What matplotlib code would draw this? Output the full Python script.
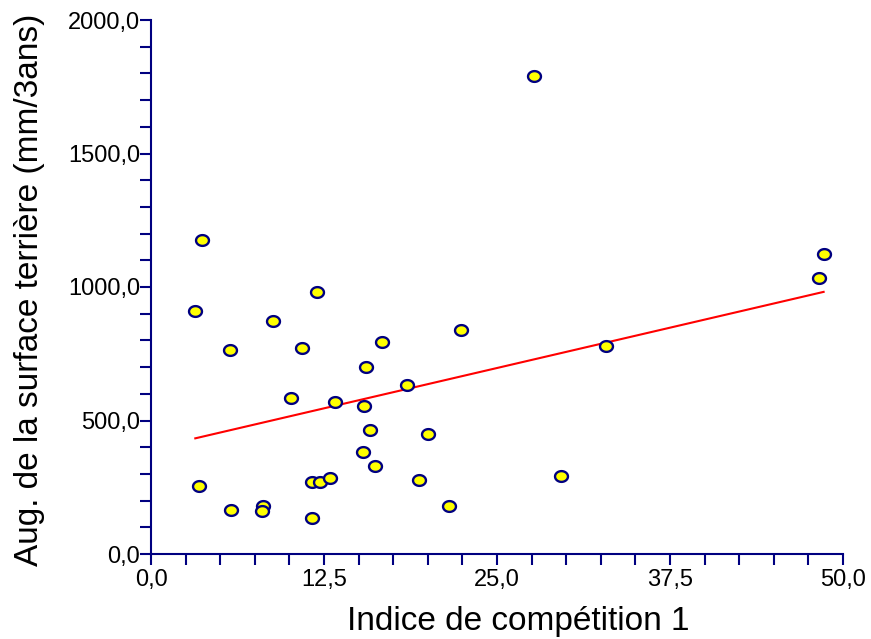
import numpy as np
import matplotlib
matplotlib.use("Agg")
import matplotlib.pyplot as plt
from matplotlib.path import Path
from matplotlib.ticker import FuncFormatter, MultipleLocator

# Data
indice = [3.2, 3.7, 3.5, 5.7, 5.8, 8.8, 8.1, 8.0, 10.1, 10.9, 12.0, 11.6, 12.2,
          11.6, 12.9, 13.3, 15.5, 15.4, 15.8, 15.3, 16.2, 16.7, 18.5, 20.0,
          19.4, 21.5, 22.4, 27.7, 29.6, 32.9, 48.3, 48.6]
augmentation = [910, 1176, 255, 764, 165, 873, 180, 161, 584, 772, 981, 270, 270,
                135, 285, 569, 700, 554, 464, 382, 330, 794, 633, 449,
                277, 180, 839, 1790, 292, 779, 1034, 1124]

x_label = "Indice de compétition 1"
y_label = "Aug. de la surface terrière (mm/3ans)"

plt.rcParams['font.family'] = ['Liberation Sans', 'DejaVu Sans']

navy = '#000080'
fig = plt.figure(figsize=(8.71, 6.39), dpi=100)
ax = fig.add_axes([151/871, 1-554/639, (843-151)/871, (554-20)/639])

x = np.array(indice, dtype=float)
y = np.array(augmentation, dtype=float)

# regression line
b, a = np.polyfit(x, y, 1)
xl = np.array([x.min(), x.max()])
ax.plot(xl, a + b*xl, color='red', lw=1.5, zorder=2)

# ellipse marker
t = np.linspace(0, 2*np.pi, 60)
verts = np.column_stack([1.2*np.cos(t), np.sin(t)])
ell = Path(verts, closed=True)
ax.plot(x, y, linestyle='none', marker=ell, ms=9.3, mfc='yellow', mec=navy,
        mew=1.7, zorder=3, clip_on=False)

ax.set_xlim(0, 50)
ax.set_ylim(0, 2000)
for s in ['top', 'right']:
    ax.spines[s].set_visible(False)
for s in ['left', 'bottom']:
    ax.spines[s].set_color(navy)
    ax.spines[s].set_linewidth(1.5)

ax.xaxis.set_major_locator(MultipleLocator(12.5))
ax.xaxis.set_minor_locator(MultipleLocator(2.5))
ax.yaxis.set_major_locator(MultipleLocator(500))
ax.yaxis.set_minor_locator(MultipleLocator(100))
fmt = FuncFormatter(lambda v, p: f"{v:.1f}".replace('.', ','))
ax.xaxis.set_major_formatter(fmt)
ax.yaxis.set_major_formatter(fmt)
ax.tick_params(which='both', direction='out', length=8, width=1.5, color=navy,
               labelsize=17, labelcolor='black')
ax.tick_params(axis='y', which='both', pad=0)
ax.tick_params(axis='x', which='both', pad=3)

ax.set_xlabel(x_label, fontsize=24)
ax.set_ylabel(y_label, fontsize=24)
ax.xaxis.set_label_coords((518-151)/692, -(606-554)/534)
ax.yaxis.set_label_coords(-(151-45)/692, 0.5 - (290-287)/534)
ax.xaxis.label.set_va('top')

fig.savefig('out.png', dpi=100)
